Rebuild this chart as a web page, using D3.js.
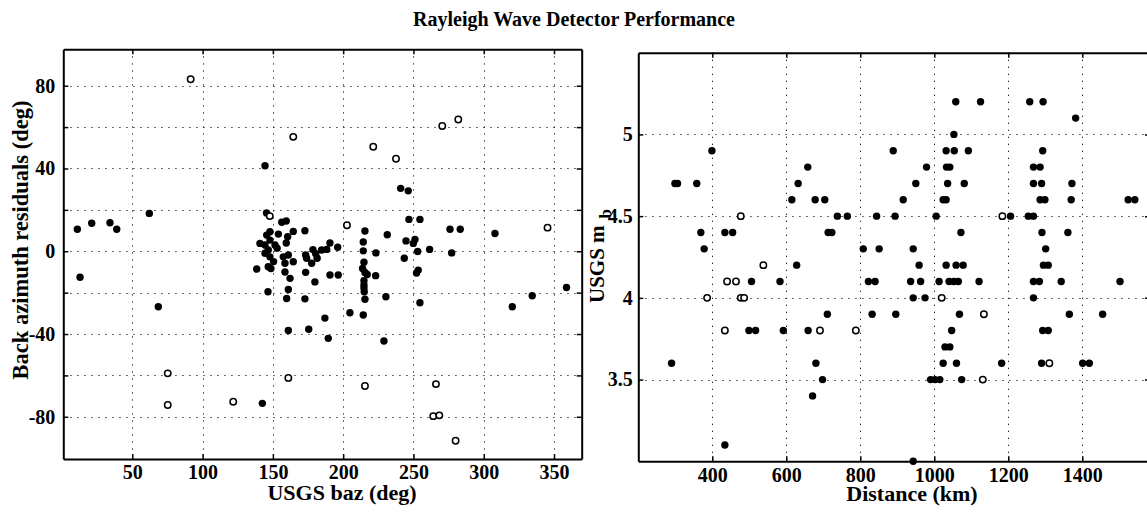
<!DOCTYPE html>
<html>
<head>
<meta charset="utf-8">
<script src="https://cdn.jsdelivr.net/npm/d3@7"></script>
<style>
  html, body { margin: 0; padding: 0; background: #fff; }
  svg { display: block; }
  text { font-family: "Liberation Serif", "Times New Roman", serif; font-weight: bold; fill: #000; }
</style>
</head>
<body>
<svg id="chart" width="1147" height="516"></svg>
<script>
// ---- data -------------------------------------------------------------
// Left panel: [USGS back azimuth (deg), back-azimuth residual (deg)]
const bazSolid = [
  [10.9,10.6],[21.1,13.5],[34.1,13.8],[38.9,10.6],[62.1,18.3],[12.8,-12.6],[68.5,-26.8],
  [142.5,-73.5],[144.4,41.3],
  [145.5,18.5],[156.3,14],[159.5,14.6],[164.5,9.6],[160.5,7],[159.5,4],[145.6,7.8],
  [147.9,9.4],[153.9,8.3],[147.9,5.4],[140.8,3.8],[144.4,3],[151.5,3],[146.7,0.6],
  [144.4,-1],[147.9,-2.7],[146.7,-7.5],[148.6,-8.3],[138.5,-8.6],[157.4,-2.7],[161,-1.8],
  [164.5,-5.1],[158.6,-5.8],[158.6,-10],[162.2,-13.1],[161,-18.5],[159.8,-22.8],
  [146.5,-19.6],[161,-38.3],[150.5,-5],[153,1.5],
  [172.8,9.9],[173.3,-1.8],[174,-3.4],[173.3,-10.2],[177.6,-5.8],[178.5,0.8],[180.5,-1.2],
  [181.5,-3.4],[179.9,-14.8],[184.7,0.6],[188.3,0.9],[190.6,4],[196.1,1.9],[190.6,-11.5],
  [196.5,-11.5],[172.8,-23],[175.5,-37.7],[187,-32.3],[189.4,-42.1],
  [204.8,-29.7],[215.5,9.8],[231.4,8],[214.3,4.5],[214.3,0.2],[223.3,-0.8],[244.7,5],
  [251.1,5.7],[249.9,3.8],[253,-0.1],[261.5,0.9],[277.2,-0.8],[243.5,-3.4],[214.8,-5.3],
  [213.8,-8.3],[215.5,-10.3],[217.1,-11.2],[223.1,-11.8],[214.8,-14.2],[214.8,-16.3],
  [214.8,-17.8],[215,-19.6],[253.4,-9.1],[252.2,-10.5],[230.4,-22],[215.5,-23.2],
  [214.3,-30.8],[229,-43.4],[254.6,-24.9],
  [240.9,30.4],[246.3,29.2],[246.8,15.4],[254.6,15.4],[276,10.6],[283.3,10.6],[308,8.6],
  [358.9,-17.5],[334.5,-21.5],[320.3,-26.8]
];
const bazHollow = [
  [91.5,83.1],[164.5,55.3],[221.4,50.5],[237.6,44.7],[270.5,60.5],[281.9,63.7],
  [202.7,12.6],[345.4,11.4],[147.8,17],[75.2,-59],[75.2,-74.3],[121.8,-72.7],
  [161,-61.2],[215.5,-65.1],[266,-64.2],[264.1,-79.7],[268.4,-79.3],[280,-91.6]
];

// Right panel: [distance (km), USGS mb]
const distSolid = [
  [1058,5.2],[1125,5.2],[1258,5.2],[1294,5.2],
  [1382,5.1],
  [1053,5.0],
  [399,4.9],[889,4.9],[1032,4.9],[1054,4.9],[1092,4.9],[1293,4.9],
  [658,4.8],[979,4.8],[1033,4.8],[1042,4.8],[1268,4.8],[1286,4.8],
  [299,4.7],[306,4.7],[358,4.7],[632,4.7],[950,4.7],[1036,4.7],[1081,4.7],[1268,4.7],[1290,4.7],[1372,4.7],
  [615,4.6],[678,4.6],[704,4.6],[916,4.6],[1024,4.6],[1032,4.6],[1286,4.6],[1299,4.6],[1370,4.6],[1524,4.6],[1542,4.6],
  [738,4.5],[765,4.5],[844,4.5],[894,4.5],[1005,4.5],[1206,4.5],[1254,4.5],[1268,4.5],
  [369,4.4],[434,4.4],[455,4.4],[713,4.4],[723,4.4],[1072,4.4],[1291,4.4],[1361,4.4],
  [378,4.3],[808,4.3],[851,4.3],[943,4.3],[1301,4.3],
  [628,4.2],[959,4.2],[1032,4.2],[1059,4.2],[1078,4.2],[1295,4.2],[1308,4.2],
  [506,4.1],[583,4.1],[822,4.1],[840,4.1],[936,4.1],[963,4.1],[1013,4.1],[1040,4.1],
  [1053,4.1],[1065,4.1],[1121,4.1],[1268,4.1],[1284,4.1],[1343,4.1],[1502,4.1],
  [943,4.0],[975,4.0],[1268,4.0],
  [711,3.9],[832,3.9],[896,3.9],[1068,3.9],[1365,3.9],[1455,3.9],
  [499,3.8],[517,3.8],[592,3.8],[659,3.8],[1047,3.8],[1293,3.8],[1308,3.8],
  [1029,3.7],[1042,3.7],
  [290,3.6],[680,3.6],[1024,3.6],[1060,3.6],[1182,3.6],[1290,3.6],[1401,3.6],[1419,3.6],
  [698,3.5],[990,3.5],[1002,3.5],[1015,3.5],[1074,3.5],
  [671,3.4],
  [434,3.1],
  [943,3.0]
];
const distHollow = [
  [477,4.5],[1184,4.5],[538,4.2],[440,4.1],[464,4.1],[386,4.0],[477,4.0],[486,4.0],
  [1020,4.0],[1134,3.9],[434,3.8],[691,3.8],[788,3.8],[1311,3.6],[1131,3.5]
];

// Tick values
const bazTicksX = [50, 100, 150, 200, 250, 300, 350];
const bazTicksY = [-80, -60, -40, -20, 0, 20, 40, 60, 80];
const distTicksX = [400, 600, 800, 1000, 1200, 1400];
const mbTicksY = [3.5, 4, 4.5, 5];

// ---- drawing ---------------------------------------------------------
const svg = d3.select("#chart");

svg.append("text")
  .attr("x", 574).attr("y", 26)
  .attr("text-anchor", "middle")
  .style("font-size", "20px")
  .text("Rayleigh Wave Detector Performance");

function drawPanel(opt) {
  const g = svg.append("g");
  const x = d3.scaleLinear().domain(opt.xDomain).range([opt.left, opt.right]);
  const y = d3.scaleLinear().domain(opt.yDomain).range([opt.bottom, opt.top]);

  // dotted grid
  const grid = g.append("g")
    .attr("stroke", "#222").attr("stroke-width", 1)
    .attr("stroke-dasharray", "1.3 5.7");
  grid.selectAll("line.gx").data(opt.xTicks).join("line")
    .attr("x1", d => Math.round(x(d)) + 0.5).attr("x2", d => Math.round(x(d)) + 0.5)
    .attr("y1", opt.top).attr("y2", opt.bottom);
  grid.selectAll("line.gy").data(opt.yTicks).join("line")
    .attr("y1", d => Math.round(y(d)) + 0.5).attr("y2", d => Math.round(y(d)) + 0.5)
    .attr("x1", opt.left).attr("x2", opt.right);

  const styleAxis = (sel) => {
    sel.select(".domain").attr("stroke", "#000").attr("stroke-width", 2);
    sel.selectAll(".tick line").attr("stroke", "#000").attr("stroke-width", 1.5);
    sel.selectAll(".tick text").style("font-size", "20px")
      .style("font-family", '"Liberation Serif", serif').style("font-weight", "bold");
  };

  g.append("g").attr("transform", `translate(0,${opt.bottom})`)
    .call(d3.axisBottom(x).tickValues(opt.xTicks).tickSize(-5).tickSizeOuter(0)
      .tickPadding(opt.xPad).tickFormat(opt.xFormat))
    .call(styleAxis);
  g.append("g").attr("transform", `translate(0,${opt.top})`)
    .call(d3.axisTop(x).tickValues(opt.xTicks).tickSize(-5).tickSizeOuter(0).tickFormat(""))
    .call(styleAxis);
  g.append("g").attr("transform", `translate(${opt.left},0)`)
    .call(d3.axisLeft(y).tickValues(opt.yTicks).tickSize(-5).tickSizeOuter(0)
      .tickPadding(opt.yPad).tickFormat(opt.yFormat))
    .call(styleAxis);
  g.append("g").attr("transform", `translate(${opt.right},0)`)
    .call(d3.axisRight(y).tickValues(opt.yTicks).tickSize(-5).tickSizeOuter(0).tickFormat(""))
    .call(styleAxis);

  // markers
  g.append("g").selectAll("circle").data(opt.solid).join("circle")
    .attr("cx", d => x(d[0])).attr("cy", d => y(d[1])).attr("r", 3.7)
    .attr("fill", "#000");
  g.append("g").selectAll("circle").data(opt.hollow).join("circle")
    .attr("cx", d => x(d[0])).attr("cy", d => y(d[1])).attr("r", 3.2)
    .attr("fill", "#fff").attr("stroke", "#000").attr("stroke-width", 1.5);

  return { g, x, y };
}

// Left: back-azimuth residual vs USGS back azimuth
drawPanel({
  left: 63.3, right: 581.7, top: 49.3, bottom: 459,
  xDomain: [0.9, 369.7], yDomain: [-100.4, 97.6],
  xTicks: bazTicksX, yTicks: bazTicksY,
  xPad: 5.5, yPad: 8,
  xFormat: d => String(d),
  yFormat: d => (d % 40 === 0 ? String(d) : ""),
  solid: bazSolid, hollow: bazHollow
});

svg.append("text")
  .attr("x", 342).attr("y", 499.5)
  .attr("text-anchor", "middle")
  .style("font-size", "22px")
  .text("USGS baz (deg)");
svg.append("text")
  .attr("transform", "translate(28,240) rotate(-90)")
  .attr("text-anchor", "middle")
  .style("font-size", "22.5px")
  .text("Back azimuth residuals (deg)");

// Right: USGS mb vs distance
drawPanel({
  left: 638.3, right: 1150, top: 52.7, bottom: 461.3,
  xDomain: [200, 1583], yDomain: [3, 5.5],
  xTicks: distTicksX, yTicks: mbTicksY,
  xPad: 6.5, yPad: 5.5,
  xFormat: d => String(d),
  yFormat: d => String(d),
  solid: distSolid, hollow: distHollow
});

svg.append("text")
  .attr("x", 912).attr("y", 501)
  .attr("text-anchor", "middle")
  .style("font-size", "22px")
  .text("Distance (km)");

const mbLabel = svg.append("text")
  .attr("transform", "translate(604,303) rotate(-90)")
  .attr("text-anchor", "start")
  .style("font-size", "21px");
mbLabel.append("tspan").text("USGS m");
mbLabel.append("tspan").attr("dx", 7).attr("dy", 7).style("font-size", "17px").text("b");
</script>
</body>
</html>
